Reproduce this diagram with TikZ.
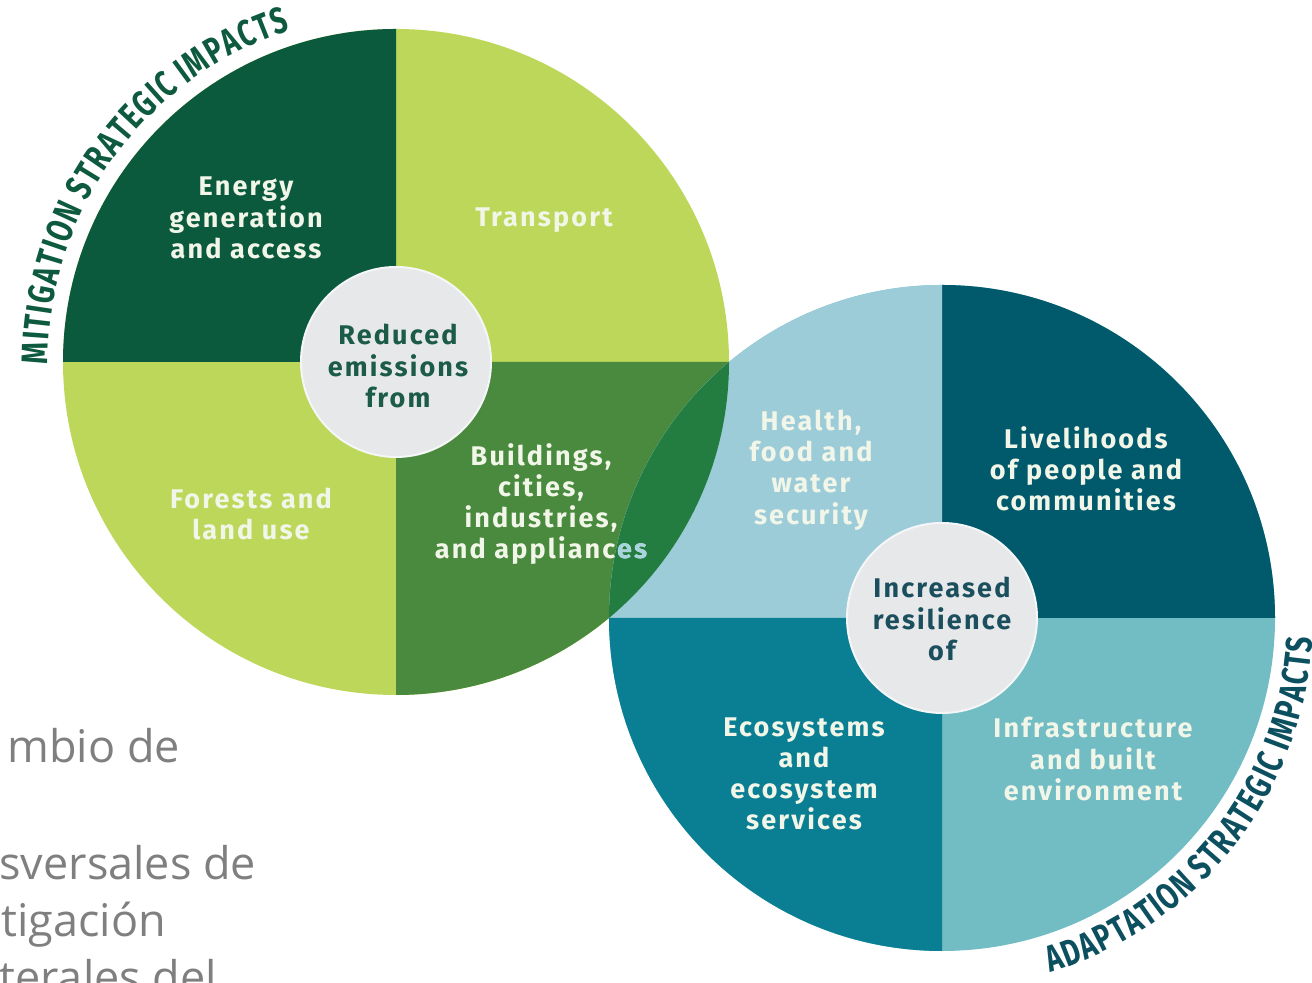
\documentclass[tikz,border=0pt]{standalone}
\usepackage{fontspec}
\usetikzlibrary{decorations.text}
\newfontfamily\labfont[LetterSpace=8]{Fira Sans}
\newfontfamily\arcfont[FakeStretch=0.74]{Fira Sans}
\newfontfamily\esfont{Open Sans}
\definecolor{cDG}{HTML}{0C5A3E}
\definecolor{cLG}{HTML}{BDD75A}
\definecolor{cMG}{HTML}{4A8A3E}
\definecolor{cOV}{HTML}{247D40}
\definecolor{cLB}{HTML}{9DCCD9}
\definecolor{cDT}{HTML}{015A6C}
\definecolor{cTE}{HTML}{0A7F93}
\definecolor{cLT}{HTML}{72BCC3}
\definecolor{cIN}{HTML}{E6E8EA}
\definecolor{cTxt}{HTML}{F1F6E8}
\definecolor{cInL}{HTML}{1B5B47}
\definecolor{cInR}{HTML}{1C4F5E}
\definecolor{cMit}{HTML}{0D5A3F}
\definecolor{cAda}{HTML}{0C4F5F}
\definecolor{cEs}{HTML}{7F7F7F}
\definecolor{cEsB}{HTML}{A8D4DE}
\tikzset{
  lab/.style={text=cTxt, font=\labfont\bfseries\fontsize{13.5}{15.6}\selectfont, align=center, inner sep=0pt},
  inlab/.style={lab, text=#1},
  inner/.style={fill=cIN, draw=white!60!cIN, line width=1pt},
  estext/.style={text=cEs, font=\esfont\fontsize{22.5}{27}\selectfont, inner sep=0pt, anchor=base west}
}
\begin{document}
\begin{tikzpicture}[x=0.5pt,y=0.5pt]
\useasboundingbox (0,0) rectangle (1312,983);
\coordinate (L) at (396,621);
\coordinate (R) at (942,365);
% left circle
\fill[cLG] (L) circle[radius=333];
\fill[cDG] (L) -- ++(0,333) arc[start angle=90,end angle=180,radius=333] -- cycle;
\fill[cMG] (L) -- ++(0,-333) arc[start angle=270,end angle=360,radius=333] -- cycle;
% right circle
\fill[cLT] (R) circle[radius=333];
\fill[cDT] (R) -- ++(333,0) arc[start angle=0,end angle=90,radius=333] -- cycle;
\fill[cLB] (R) -- ++(0,333) arc[start angle=90,end angle=180,radius=333] -- cycle;
\fill[cTE] (R) -- ++(-333,0) arc[start angle=180,end angle=270,radius=333] -- cycle;
% overlap lens
\begin{scope}
  \clip (L) circle[radius=333];
  \fill[cOV] (R) circle[radius=333];
\end{scope}
% inner circles
\fill[inner] (L) circle[radius=95];
\fill[inner] (R) circle[radius=95];
% left labels
\node[lab] (energy) at (246,765) {Energy\\generation\\and access};
\node[lab] (transport) at (544,763) {Transport};
\node[lab] (forests) at (251,469) {Forests and\\land use};
\node[lab] (buildings) at (541,479) {Buildings,\\cities,\\industries,\\and appliances};
\begin{scope}
  \clip (R) circle[radius=333];
  \node[lab, text=cEsB] (buildingsB) at (541,479) {Buildings,\\cities,\\industries,\\and appliances};
\end{scope}
\node[inlab=cInL] (reduced) at (398,617) {Reduced\\emissions\\from};
% right labels
\node[lab] (health) at (811,513) {Health,\\food and\\water\\security};
\node[lab] (livelihoods) at (1086,514) {Livelihoods\\of people and\\communities};
\node[inlab=cInR] (increased) at (942,364) {Increased\\resilience\\of};
\node[lab] (ecosystems) at (804,209) {Ecosystems\\and\\ecosystem\\services};
\node[lab] (infra) at (1093,224) {Infrastructure\\and built\\environment};
% curved titles
\path[decorate, decoration={text along path, text align=center,
  text={|\arcfont\bfseries\fontsize{18.5}{18.5}\selectfont\color{cMit}|{M\kern.8pt}{I\kern.8pt}{T\kern.8pt}{I\kern.8pt}{G\kern.8pt}{A\kern.8pt}{T\kern.8pt}{I\kern.8pt}{O\kern.8pt}{N\kern.8pt} {S\kern.8pt}{T\kern.8pt}{R\kern.8pt}{A\kern.8pt}{T\kern.8pt}{E\kern.8pt}{G\kern.8pt}{I\kern.8pt}{C\kern.8pt} {I\kern.8pt}{M\kern.8pt}{P\kern.8pt}{A\kern.8pt}{C\kern.8pt}{T\kern.8pt}{S}}}]
  (L) ++(199:348) arc[start angle=199,end angle=89,radius=348];
\path[decorate, decoration={text along path, text align=center,
  text={|\arcfont\bfseries\fontsize{18.5}{18.5}\selectfont\color{cAda}|{A\kern.8pt}{D\kern.8pt}{A\kern.8pt}{P\kern.8pt}{T\kern.8pt}{A\kern.8pt}{T\kern.8pt}{I\kern.8pt}{O\kern.8pt}{N\kern.8pt} {S\kern.8pt}{T\kern.8pt}{R\kern.8pt}{A\kern.8pt}{T\kern.8pt}{E\kern.8pt}{G\kern.8pt}{I\kern.8pt}{C\kern.8pt} {I\kern.8pt}{M\kern.8pt}{P\kern.8pt}{A\kern.8pt}{C\kern.8pt}{T\kern.8pt}{S}}}]
  (R) ++(-100:371) arc[start angle=-100,end angle=24,radius=371];
% spanish text fragments
\node[estext] (es1) at (7,220) {mbio de};
\node[estext] (es2) at (-1,103) {sversales de};
\node[estext] (es3) at (1,46) {tigación};
\node[estext] (es4) at (-1,-11) {terales del};
\end{tikzpicture}
\end{document}
